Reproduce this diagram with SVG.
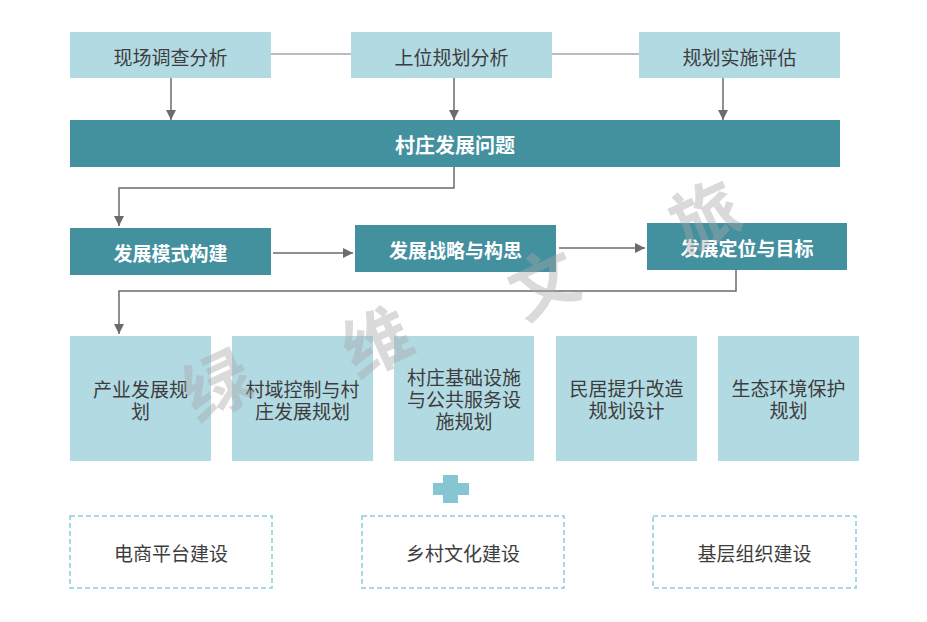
<svg xmlns="http://www.w3.org/2000/svg" width="927" height="622" viewBox="0 0 927 622">
<defs>
<marker id="ah" viewBox="0 0 10 10" refX="10" refY="5" markerWidth="10" markerHeight="10" markerUnits="userSpaceOnUse" orient="auto">
<path d="M0,0 L10,5 L0,10 Z" fill="#6b6b6b"/>
</marker>
<style>
.lb{fill:#b2dae3}
.tl{fill:#43909f}
.dash{fill:#fff;stroke:#8ccbd6;stroke-width:1.5;stroke-dasharray:5 3}
.t{font-family:"Noto Sans CJK SC","Noto Sans",sans-serif;font-size:19px;fill:#3d3d3d;text-anchor:middle;dominant-baseline:central}
.tm{font-family:"Liberation Sans","Noto Sans CJK SC",sans-serif;font-size:19px;fill:#3d3d3d;text-anchor:middle}
.tw{font-family:"Noto Sans CJK SC","Noto Sans",sans-serif;font-size:19px;font-weight:bold;fill:#fff;text-anchor:middle;dominant-baseline:central}
.c{fill:none;stroke:#6b6b6b;stroke-width:1.5}
.cl{fill:none;stroke:#7a7a7a;stroke-width:1}
.wm{font-family:"Noto Sans CJK SC",sans-serif;font-size:68px;font-weight:bold;fill:#a8a8a8;opacity:0.42;text-anchor:middle;dominant-baseline:central}
</style>
</defs>
<rect width="927" height="622" fill="#fff"/>
<g id="connectors">
<line class="cl" x1="271" y1="54" x2="351" y2="54"/>
<line class="cl" x1="552" y1="54" x2="639" y2="54"/>
<line class="c" x1="171" y1="78" x2="171" y2="120" marker-end="url(#ah)"/>
<line class="c" x1="454" y1="78" x2="454" y2="120" marker-end="url(#ah)"/>
<line class="c" x1="723" y1="78" x2="723" y2="120" marker-end="url(#ah)"/>
<polyline class="c" points="454,167 454,188 119,188 119,226" marker-end="url(#ah)"/>
<line class="c" x1="273" y1="253" x2="353" y2="253" marker-end="url(#ah)"/>
<line class="c" x1="559" y1="248" x2="645" y2="248" marker-end="url(#ah)"/>
<polyline class="c" points="736,270 736,291 119,291 119,334" marker-end="url(#ah)"/>
</g>
<g id="n1"><rect class="lb" x="70" y="32" width="201" height="46"/><text class="t" x="170.5" y="56">现场调查分析</text></g>
<g id="n2"><rect class="lb" x="351" y="32" width="201" height="46"/><text class="t" x="451.5" y="56">上位规划分析</text></g>
<g id="n3"><rect class="lb" x="639" y="32" width="201" height="46"/><text class="t" x="739.5" y="56">规划实施评估</text></g>
<g id="n4"><rect class="tl" x="70" y="120" width="770" height="47"/><text class="tw" style="font-size:20px" x="455" y="144">村庄发展问题</text></g>
<g id="n5"><rect class="tl" x="70" y="228" width="201" height="47"/><text class="tw" x="170.5" y="252">发展模式构建</text></g>
<g id="n6"><rect class="tl" x="355" y="225" width="201" height="47"/><text class="tw" x="455.5" y="249">发展战略与构思</text></g>
<g id="n7"><rect class="tl" x="647" y="223" width="200" height="47"/><text class="tw" x="747" y="247">发展定位与目标</text></g>
<g id="n8"><rect class="lb" x="70" y="336" width="141" height="125"/><text class="tm" x="140.5" y="397">产业发展规<tspan x="140.5" dy="22">划</tspan></text></g>
<g id="n9"><rect class="lb" x="232" y="336" width="141" height="125"/><text class="tm" x="302.5" y="397">村域控制与村<tspan x="302.5" dy="22">庄发展规划</tspan></text></g>
<g id="n10"><rect class="lb" x="394" y="336" width="140" height="125"/><text class="tm" x="464" y="385">村庄基础设施<tspan x="464" dy="22">与公共服务设</tspan><tspan x="464" dy="22">施规划</tspan></text></g>
<g id="n11"><rect class="lb" x="556" y="336" width="141" height="125"/><text class="tm" x="626.5" y="396">民居提升改造<tspan x="626.5" dy="22">规划设计</tspan></text></g>
<g id="n12"><rect class="lb" x="718" y="336" width="141" height="125"/><text class="tm" x="788.5" y="396">生态环境保护<tspan x="788.5" dy="22">规划</tspan></text></g>
<g id="plus"><rect x="443" y="475" width="15" height="28" fill="#86c6d3"/><rect x="433" y="483" width="36" height="12" fill="#86c6d3"/></g>
<g id="n13"><rect class="dash" x="70" y="516" width="202" height="72"/><text class="t" x="171" y="552">电商平台建设</text></g>
<g id="n14"><rect class="dash" x="362" y="516" width="202" height="72"/><text class="t" x="463" y="552">乡村文化建设</text></g>
<g id="n15"><rect class="dash" x="653" y="516" width="203" height="72"/><text class="t" x="754.5" y="552">基层组织建设</text></g>
<g id="watermark">
<text class="wm" transform="translate(215,382) rotate(-25)">绿</text>
<text class="wm" transform="translate(375,338) rotate(-25)">维</text>
<text class="wm" transform="translate(542,280) rotate(-25)">文</text>
<text class="wm" transform="translate(703,212) rotate(-25)">旅</text>
</g>
</svg>
